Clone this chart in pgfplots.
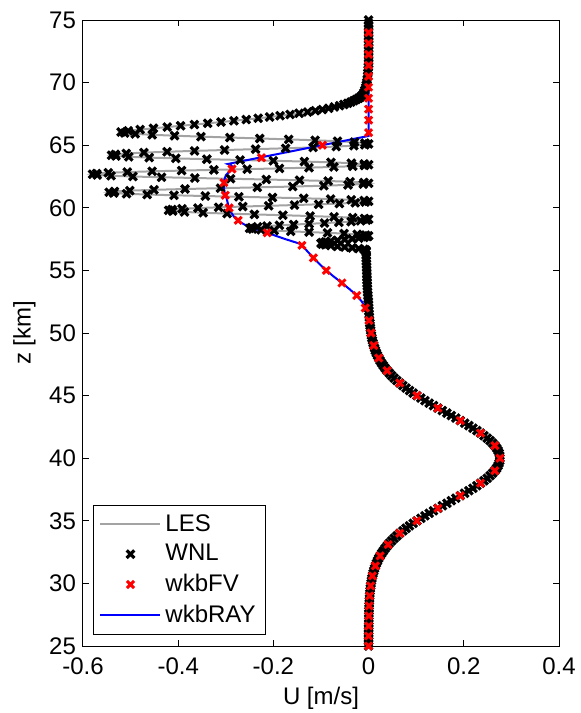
\documentclass[border=0pt]{standalone}
\usepackage{fontspec}
\setmainfont{Liberation Sans}
\usepackage{pgfplots}
\usepackage{pgfplotstable}
\pgfplotsset{compat=1.18}

% Mean-flow profile below 51 km (shared by all solutions)
\pgfplotstableread{
z U
25.0 0
25.2 0
25.4 0
25.6 0
25.8 0
26.0 0
26.2 0
26.4 0
26.6 0.0002
26.8 0.0003
27.0 0.0003
27.2 0.0004
27.4 0.0005
27.6 0.0006
27.8 0.0007
28.0 0.0009
28.2 0.0011
28.4 0.0013
28.6 0.0015
28.8 0.0018
29.0 0.0022
29.2 0.0026
29.4 0.0031
29.6 0.0037
29.8 0.0043
30.0 0.0051
30.2 0.0059
30.4 0.0069
30.6 0.0081
30.8 0.0094
31.0 0.0108
31.2 0.0125
31.4 0.0143
31.6 0.0164
31.8 0.0187
32.0 0.0213
32.2 0.0242
32.4 0.0274
32.6 0.0309
32.8 0.0347
33.0 0.0389
33.2 0.0434
33.4 0.0483
33.6 0.0536
33.8 0.0593
34.0 0.0654
34.2 0.0719
34.4 0.0787
34.6 0.0860
34.8 0.0936
35.0 0.1015
35.2 0.1098
35.4 0.1184
35.6 0.1272
35.8 0.1363
36.0 0.1455
36.2 0.1549
36.4 0.1644
36.6 0.1738
36.8 0.1832
37.0 0.1926
37.2 0.2017
37.4 0.2106
37.6 0.2192
37.8 0.2274
38.0 0.2352
38.2 0.2424
38.4 0.2491
38.6 0.2552
38.8 0.2605
39.0 0.2652
39.2 0.2690
39.4 0.2721
39.6 0.2742
39.8 0.2756
40.0 0.2760
40.2 0.2756
40.4 0.2742
40.6 0.2721
40.8 0.2690
41.0 0.2652
41.2 0.2605
41.4 0.2552
41.6 0.2491
41.8 0.2424
42.0 0.2352
42.2 0.2274
42.4 0.2192
42.6 0.2106
42.8 0.2017
43.0 0.1926
43.2 0.1832
43.4 0.1738
43.6 0.1644
43.8 0.1549
44.0 0.1455
44.2 0.1363
44.4 0.1272
44.6 0.1184
44.8 0.1098
45.0 0.1015
45.2 0.0936
45.4 0.0860
45.6 0.0787
45.8 0.0719
46.0 0.0654
46.2 0.0593
46.4 0.0536
46.6 0.0483
46.8 0.0434
47.0 0.0389
47.2 0.0347
47.4 0.0309
47.6 0.0274
47.8 0.0242
48.0 0.0213
48.2 0.0187
48.4 0.0164
48.6 0.0143
48.8 0.0125
49.0 0.0108
49.2 0.0094
49.4 0.0081
49.6 0.0069
49.8 0.0059
50.0 0.0051
50.2 0.0043
50.4 0.0037
50.6 0.0031
50.8 0.0026
}\lowprofile

% Weakly nonlinear solution above 50.8 km
\pgfplotstableread{
z U
50.8 0.0026
51.0 0.0020
51.25 0.0015
51.5 0.0010
51.75 0.0006
52.0 0.0003
52.25 0.0000
52.5 -0.0005
52.75 -0.0010
53.0 -0.0015
53.25 -0.0020
53.5 -0.0025
53.75 -0.0028
54.0 -0.0030
54.25 -0.0033
54.5 -0.0035
54.75 -0.0038
55.0 -0.0040
55.25 -0.0042
55.5 -0.0045
55.75 -0.0047
56.0 -0.0050
56.25 -0.0050
56.5 -0.0050
56.56 -0.0050
56.62 -0.0060
56.68 -0.0096
56.74 -0.0206
56.80 -0.0346
56.86 -0.0500
56.92 -0.0655
56.98 -0.0794
57.04 -0.0905
57.10 -0.0976
57.16 -0.1000
57.22 -0.0976
57.28 -0.0905
57.34 -0.0794
57.40 -0.0655
57.46 -0.0500
57.52 -0.0346
57.58 -0.0206
57.64 -0.0096
57.70 -0.0025
57.76 0.0000
57.82 -0.0061
57.88 -0.0239
57.94 -0.0515
58.00 -0.0864
58.06 -0.1250
58.12 -0.1636
58.18 -0.1985
58.24 -0.2261
58.30 -0.2439
58.36 -0.2500
58.42 -0.2458
58.48 -0.2333
58.54 -0.2134
58.60 -0.1875
58.66 -0.1574
58.72 -0.1250
58.78 -0.0927
58.84 -0.0625
58.90 -0.0366
58.96 -0.0168
59.02 -0.0043
59.08 0.0000
59.145 -0.0085
59.211 -0.0333
59.276 -0.0725
59.342 -0.1228
59.407 -0.1801
59.473 -0.2399
59.538 -0.2972
59.604 -0.3475
59.669 -0.3867
59.735 -0.4115
59.800 -0.4200
59.86 -0.4129
59.92 -0.3919
59.98 -0.3585
60.04 -0.3150
60.10 -0.2643
60.16 -0.2100
60.22 -0.1557
60.28 -0.1050
60.34 -0.0615
60.40 -0.0281
60.46 -0.0071
60.52 0.0000
60.58 -0.0093
60.64 -0.0365
60.70 -0.0798
60.76 -0.1363
60.82 -0.2020
60.88 -0.2725
60.94 -0.3430
61.00 -0.4088
61.06 -0.4652
61.12 -0.5085
61.18 -0.5357
61.24 -0.5450
61.305 -0.5339
61.371 -0.5017
61.436 -0.4509
61.502 -0.3857
61.567 -0.3112
61.633 -0.2338
61.698 -0.1593
61.764 -0.0941
61.829 -0.0433
61.895 -0.0111
61.960 0.0000
62.02 -0.0099
62.08 -0.0389
62.14 -0.0849
62.20 -0.1450
62.26 -0.2149
62.32 -0.2900
62.38 -0.3651
62.44 -0.4350
62.50 -0.4951
62.56 -0.5411
62.62 -0.5701
62.68 -0.5800
62.738 -0.5715
62.797 -0.5468
62.855 -0.5070
62.914 -0.4547
62.972 -0.3928
63.031 -0.3250
63.089 -0.2550
63.148 -0.1872
63.206 -0.1253
63.265 -0.0730
63.323 -0.0332
63.382 -0.0085
63.440 0.0000
63.503 -0.0092
63.567 -0.0362
63.630 -0.0791
63.693 -0.1350
63.757 -0.2001
63.820 -0.2700
63.883 -0.3399
63.947 -0.4050
64.010 -0.4609
64.073 -0.5038
64.137 -0.5308
64.200 -0.5400
64.269 -0.5321
64.338 -0.5091
64.408 -0.4721
64.477 -0.4234
64.546 -0.3657
64.615 -0.3026
64.685 -0.2374
64.754 -0.1743
64.823 -0.1166
64.892 -0.0679
64.962 -0.0309
65.031 -0.0079
65.100 0.0000
65.173 -0.0076
65.246 -0.0297
65.319 -0.0654
65.392 -0.1123
65.465 -0.1678
65.538 -0.2286
65.612 -0.2914
65.685 -0.3522
65.758 -0.4077
65.831 -0.4546
65.904 -0.4903
65.977 -0.5124
66.050 -0.5200
66.15 -0.505
66.25 -0.480
66.35 -0.452
66.45 -0.423
66.55 -0.395
66.65 -0.366
66.75 -0.338
66.85 -0.310
66.95 -0.283
67.05 -0.257
67.15 -0.232
67.25 -0.208
67.35 -0.186
67.45 -0.165
67.55 -0.146
67.65 -0.128
67.75 -0.112
67.85 -0.097
67.95 -0.084
68.05 -0.072
68.15 -0.061
68.25 -0.052
68.35 -0.044
68.45 -0.037
68.55 -0.031
68.65 -0.026
68.75 -0.021
68.85 -0.017
68.95 -0.014
69.05 -0.012
69.2 -0.010
69.4 -0.008
69.6 -0.006
69.8 -0.005
70.0 -0.004
70.25 -0.003
70.5 -0.002
70.75 -0.0015
71.0 -0.001
71.25 -0.0005
71.5 0
71.75 0
72.0 0
72.25 0
72.5 0
72.75 0
73.0 0
73.25 0
73.5 0
73.75 0
74.0 0
74.25 0
74.5 0
74.75 0
75.0 0
}\wnlupper

% Ray-tracing solution above 50.8 km
\pgfplotstableread{
z U
50.8 0.0026
51.2 0.0
51.6 -0.003
52.0 -0.007
52.5 -0.014
53.0 -0.025
53.5 -0.040
54.0 -0.056
54.5 -0.073
55.0 -0.089
55.5 -0.103
56.0 -0.116
56.5 -0.128
57.0 -0.140
57.15 -0.146
57.5 -0.175
58.0 -0.213
58.5 -0.253
58.9 -0.272
59.3 -0.283
59.7 -0.290
60.1 -0.294
60.7 -0.298
61.3 -0.303
62.0 -0.305
62.6 -0.300
63.0 -0.290
63.2 -0.284
63.4 -0.289
63.5 -0.296
65.74 0
75.0 0
}\rayupper

% Finite-volume WKB solution
\pgfplotstableread{
z U
25.0 0
25.8 0
26.6 0.0002
27.4 0.0005
28.2 0.0011
29.0 0.0022
29.8 0.0043
30.6 0.0081
31.4 0.0143
32.2 0.0242
33.1 0.0411
34.0 0.0654
35.0 0.1015
36.0 0.1455
37.0 0.1926
38.0 0.2352
39.0 0.2652
40.0 0.2760
41.0 0.2652
42.0 0.2352
43.0 0.1926
44.0 0.1455
45.0 0.1015
46.0 0.0654
47.0 0.0389
48.0 0.0213
49.0 0.0108
50.0 0.0051
51.0 0.0010
52.0 -0.007
53.0 -0.025
54.0 -0.056
55.0 -0.089
56.0 -0.116
57.0 -0.140
58.0 -0.213
59.0 -0.274
60.0 -0.293
61.0 -0.301
62.0 -0.304
63.1 -0.287
64.0 -0.225
65.0 -0.097
66.0 0
67.0 0
67.88 0
68.75 0
69.63 0
70.5 0
71.38 0
72.25 0
73.13 0
74.0 0
}\fvdata

\definecolor{lesgray}{rgb}{0.64,0.64,0.64}

\begin{document}
\begin{tikzpicture}
\useasboundingbox (-41.5pt,-33.5pt) rectangle (249pt,323pt);
\begin{axis}[
  at={(0,0)}, anchor=south west, scale only axis,
  width=238pt, height=313pt,
  xmin=-0.6, xmax=0.4, ymin=25, ymax=75,
  xtick={-0.6,-0.4,-0.2,0,0.2,0.4},
  ytick={25,30,35,40,45,50,55,60,65,70,75},
  tick align=inside, major tick length=3pt,
  axis line style={line width=0.5pt},
  every tick/.style={black, line width=0.5pt},
  /pgf/number format/assume math mode=true,
  tick label style={font=\fontsize{12}{14}\selectfont},
  xticklabel style={yshift=-2.5pt},
  label style={font=\fontsize{12}{14}\selectfont},
  xlabel={U [m/s]}, ylabel={z [km]},
  xlabel style={yshift=1pt},
  legend cell align=left,
  legend style={at={(0,0)}, anchor=south west, xshift=5pt, yshift=5.5pt,
    draw=black, line width=0.5pt, fill=white,
    font=\fontsize{12}{14}\selectfont, row sep=1.2pt, inner ysep=2.5pt},
  legend image code/.code={\draw[mark repeat=2,mark phase=2,#1]
    plot coordinates {(0pt,0pt) (15pt,0pt) (30pt,0pt)};},
]
% LES
\addplot[lesgray, line width=1pt, no marks] table[x=U, y=z] {\lowprofile};
\addlegendentry{LES}
\addplot[lesgray, line width=1pt, no marks, forget plot] table[x=U, y=z] {\wnlupper};
% WNL
\addplot[black, only marks, mark=x, mark size=2.7pt, line width=1.6pt] table[x=U, y=z] {\lowprofile};
\addlegendentry{WNL}
\addplot[black, only marks, mark=x, mark size=2.7pt, line width=1.6pt, forget plot] table[x=U, y=z] {\wnlupper};
% wkbFV
\addplot[red, only marks, mark=x, mark size=2.5pt, line width=1.5pt] table[x=U, y=z] {\fvdata};
\addlegendentry{wkbFV}
% wkbRAY
\addplot[blue, line width=1pt, no marks] table[x=U, y=z] {\lowprofile};
\addlegendentry{wkbRAY}
\addplot[blue, line width=1pt, no marks, forget plot] table[x=U, y=z] {\rayupper};
\end{axis}
\end{tikzpicture}
\end{document}
